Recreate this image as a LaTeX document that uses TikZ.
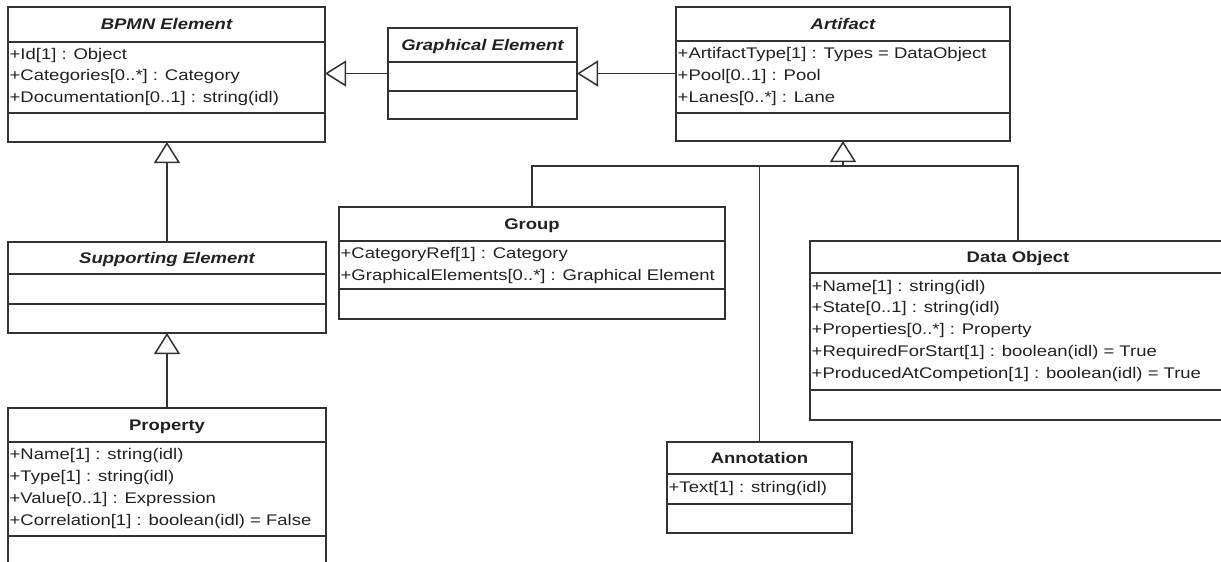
\documentclass[tikz,border=0pt]{standalone}
\usepackage{fontspec}
\setmainfont[FakeStretch=1.2]{Liberation Sans}
\usetikzlibrary{arrows.meta}
\definecolor{linec}{HTML}{333333}
\definecolor{txtc}{HTML}{222222}
\newcommand{\attrfont}{\fontsize{15.4}{21.9}\selectfont}
\tikzset{
  classbox/.style={draw=linec, line width=1.6pt, fill=white, inner sep=0pt, outer sep=0pt, anchor=north west},
  compline/.style={draw=linec, line width=1.4pt},
  absttitle/.style={anchor=base, inner sep=0pt, text=txtc, font=\attrfont\bfseries\itshape},
  conctitle/.style={anchor=base, inner sep=0pt, text=txtc, font=\attrfont\bfseries},
  attrs/.style={anchor=base west, inner sep=0pt, align=left, text=txtc, font=\attrfont},
  conn/.style={draw=linec, line width=1.5pt},
  gen/.style={draw=linec, line width=1.5pt, -{Triangle[open, length=21pt, width=26pt, line width=1.5pt]}},
}
\begin{document}
\begin{tikzpicture}[x=1pt, y=-1pt]
\useasboundingbox (0,0) rectangle (1221,562);
\clip (0,0) rectangle (1221,562);
\fill[white] (0,0) rectangle (1221,562);

% BPMN Element
\node[classbox, minimum width=317pt, minimum height=135pt] (bpmn) at (8,7) {};
\draw[compline] (8,42) -- (325,42) (8,113) -- (325,113);
\node[absttitle] (bpmnt) at (166.5,29.5) {BPMN Element};
\node[attrs] (bpmna) at (9.5,102.8) {+Id[1] : Object\\+Categories[0..*] : Category\\+Documentation[0..1] : string(idl)};

% Graphical Element
\node[classbox, minimum width=189pt, minimum height=91pt] (ge) at (388,28) {};
\draw[compline] (388,62) -- (577,62) (388,91) -- (577,91);
\node[absttitle] (get) at (482.5,50) {Graphical Element};

% Artifact
\node[classbox, minimum width=334pt, minimum height=134pt] (art) at (676,7) {};
\draw[compline] (676,41) -- (1010,41) (676,113) -- (1010,113);
\node[absttitle] (artt) at (843,29) {Artifact};
\node[attrs] (arta) at (677.5,102.3) {+ArtifactType[1] : Types = DataObject\\+Pool[0..1] : Pool\\+Lanes[0..*] : Lane};

% Supporting Element
\node[classbox, minimum width=318pt, minimum height=91pt] (sup) at (8,242) {};
\draw[compline] (8,274) -- (326,274) (8,304) -- (326,304);
\node[absttitle] (supt) at (167,263) {Supporting Element};

% Property
\node[classbox, minimum width=318pt, minimum height=162pt] (prop) at (8,408) {};
\draw[compline] (8,442) -- (326,442) (8,536) -- (326,536);
\node[conctitle] (propt) at (167,430.5) {Property};
\node[attrs] (propa) at (9.5,525.2) {+Name[1] : string(idl)\\+Type[1] : string(idl)\\+Value[0..1] : Expression\\+Correlation[1] : boolean(idl) = False};

% Group
\node[classbox, minimum width=386pt, minimum height=112pt] (grp) at (339,207) {};
\draw[compline] (339,241) -- (725,241) (339,289) -- (725,289);
\node[conctitle] (grpt) at (532,229.5) {Group};
\node[attrs] (grpa) at (340.5,280.4) {+CategoryRef[1] : Category\\+GraphicalElements[0..*] : Graphical Element};

% Data Object
\node[classbox, minimum width=416pt, minimum height=179pt] (dob) at (810,241) {};
\draw[compline] (810,273) -- (1226,273) (810,390) -- (1226,390);
\node[conctitle] (dobt) at (1018,262) {Data Object};
\node[attrs] (doba) at (811.5,378.6) {+Name[1] : string(idl)\\+State[0..1] : string(idl)\\+Properties[0..*] : Property\\+RequiredForStart[1] : boolean(idl) = True\\+ProducedAtCompetion[1] : boolean(idl) = True};

% Annotation
\node[classbox, minimum width=185pt, minimum height=91pt] (ann) at (667,442) {};
\draw[compline] (667,474) -- (852,474) (667,504) -- (852,504);
\node[conctitle] (annt) at (759.5,463) {Annotation};
\node[attrs] (anna) at (668.5,492.5) {+Text[1] : string(idl)};

% Generalisations
\draw[gen] (ge.west) -- (ge.west -| bpmn.east);
\draw[gen] (ge.east -| art.west) -- (ge.east);
\draw[gen] (sup.north) -- (sup.north |- bpmn.south);
\draw[gen] (prop.north) -- (prop.north |- sup.south);
\coordinate (bus) at ([yshift=-25pt]art.south);
\draw[gen] (bus) -- (art.south);
\draw[conn] (grp.north) |- (bus) -| (dob.north);
\draw[conn] (ann.north) -- (ann.north |- bus);
\end{tikzpicture}
\end{document}
